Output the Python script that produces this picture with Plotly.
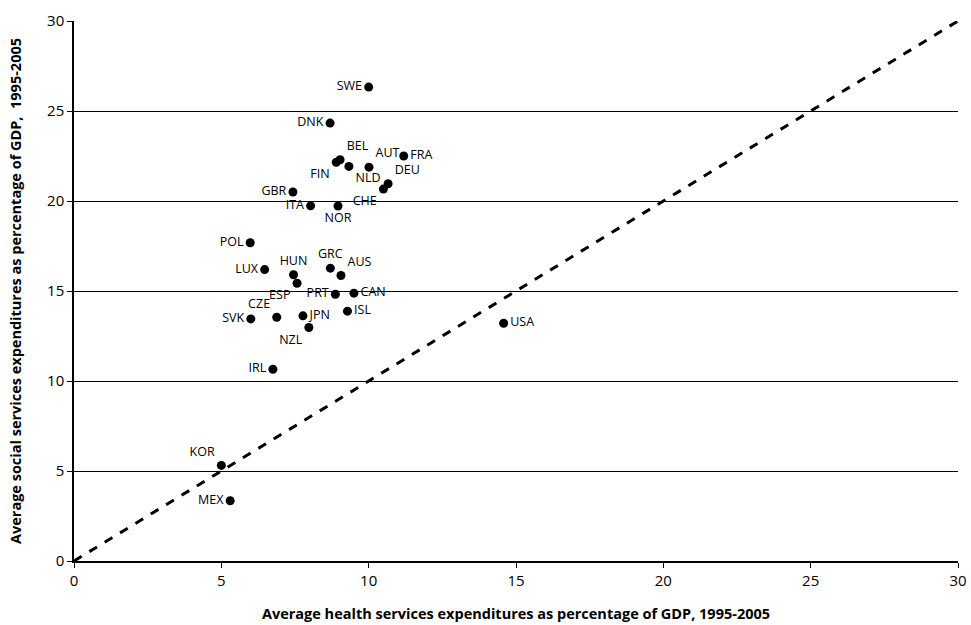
import plotly.graph_objects as go

countries = ["SWE", "DNK", "BEL", "FIN", "NLD", "AUT", "FRA", "DEU", "CHE", "GBR", "ITA", "NOR",
             "POL", "LUX", "HUN", "ESP", "GRC", "AUS", "PRT", "CAN", "ISL", "JPN", "NZL", "CZE",
             "SVK", "USA", "IRL", "KOR", "MEX"]
health = [10.0, 8.69, 9.03, 8.90, 9.33, 10.01, 11.19, 10.66, 10.50, 7.43, 8.03, 8.96,
          5.98, 6.47, 7.45, 7.57, 8.70, 9.06, 8.87, 9.50, 9.28, 7.77, 7.97, 6.88,
          6.0, 14.58, 6.75, 5.0, 5.30]
social = [26.33, 24.33, 22.29, 22.15, 21.92, 21.88, 22.50, 20.96, 20.66, 20.50, 19.73, 19.72,
          17.68, 16.19, 15.90, 15.43, 16.27, 15.86, 14.82, 14.88, 13.88, 13.62, 12.97, 13.54,
          13.45, 13.21, 10.65, 5.31, 3.35]
label_pos = ["middle left", "middle left", "top right", "bottom left", "bottom right", "top right",
             "middle right", "top right", "bottom left", "middle left", "middle left", "bottom center",
             "middle left", "middle left", "top center", "bottom left", "top center", "top right",
             "middle left", "middle right", "middle right", "middle right", "bottom left", "top left",
             "middle left", "middle right", "middle left", "top left", "middle left"]
diag = [0, 30]
x_ticks = [0, 5, 10, 15, 20, 25, 30]
y_ticks = [0, 5, 10, 15, 20, 25, 30]

fig = go.Figure()
fig.add_trace(go.Scatter(x=diag, y=diag, mode="lines",
                         line=dict(color="black", width=3, dash="dash"),
                         hoverinfo="skip", showlegend=False, cliponaxis=False))
fig.add_trace(go.Scatter(x=health, y=social, mode="markers+text",
                         text=countries, textposition=label_pos,
                         textfont=dict(family="Open Sans", size=12.5, color="black"),
                         marker=dict(color="black", size=9),
                         showlegend=False))

fig.update_layout(
    width=971, height=625,
    margin=dict(l=74, r=13, t=21, b=64),
    plot_bgcolor="white", paper_bgcolor="white",
    font=dict(family="Open Sans", color="black"),
    xaxis=dict(range=[0, 30], tickvals=x_ticks, showgrid=False, zeroline=False,
               showline=True, linecolor="black", linewidth=1.5,
               ticks="outside", ticklen=5, tickcolor="black",
               tickfont=dict(size=15), automargin=False,
               title=dict(text="<b>Average health services expenditures as percentage of GDP, 1995-2005</b>",
                          font=dict(size=14.5), standoff=20)),
    yaxis=dict(range=[0, 30], tickvals=y_ticks, showgrid=True, gridcolor="black", gridwidth=1.2,
               zeroline=False, showline=True, linecolor="black", linewidth=1.5,
               ticks="outside", ticklen=5, tickcolor="black",
               tickfont=dict(size=15), automargin=False,
               title=dict(text="<b>Average social services expenditures as percentage of GDP,  1995-2005</b>",
                          font=dict(size=14.5), standoff=22)),
)

fig.write_html("out.html", config={"displayModeBar": False},
               post_script="document.body.style.margin='0';document.body.style.overflow='hidden';")
